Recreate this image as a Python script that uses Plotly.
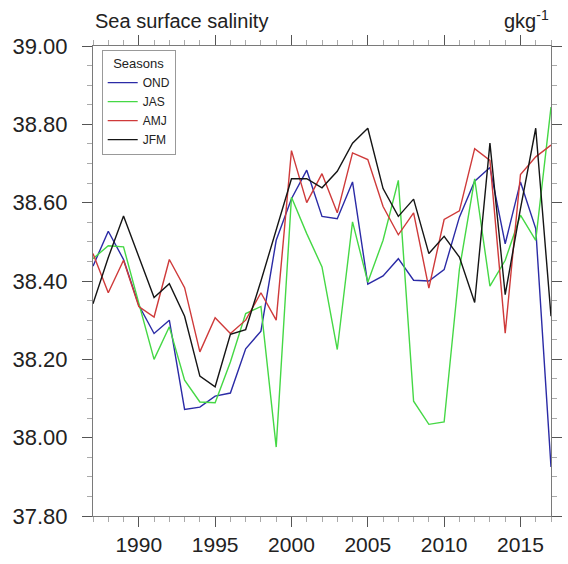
import plotly.graph_objects as go

years = list(range(1987, 2018))

ond = [38.438, 38.527, 38.455, 38.338, 38.266, 38.300, 38.072, 38.078, 38.106, 38.114,
       38.227, 38.272, 38.504, 38.610, 38.683, 38.565, 38.559, 38.653, 38.392, 38.413,
       38.457, 38.402, 38.400, 38.429, 38.563, 38.655, 38.690, 38.495, 38.653, 38.534, 37.925]

jas = [38.457, 38.490, 38.487, 38.346, 38.200, 38.283, 38.147, 38.091, 38.089, 38.193,
       38.317, 38.335, 37.976, 38.614, 38.521, 38.436, 38.225, 38.551, 38.397, 38.504,
       38.657, 38.093, 38.034, 38.040, 38.430, 38.661, 38.387, 38.453, 38.568, 38.504, 38.844]

amj = [38.470, 38.370, 38.453, 38.335, 38.308, 38.455, 38.383, 38.219, 38.306, 38.266,
       38.300, 38.370, 38.300, 38.733, 38.600, 38.674, 38.574, 38.727, 38.710, 38.590,
       38.518, 38.574, 38.382, 38.557, 38.579, 38.738, 38.708, 38.267, 38.672, 38.717, 38.747]

jfm = [38.342, 38.460, 38.566, 38.460, 38.358, 38.393, 38.310, 38.157, 38.130, 38.264,
       38.276, 38.400, 38.530, 38.661, 38.661, 38.638, 38.680, 38.752, 38.790, 38.636,
       38.565, 38.609, 38.470, 38.514, 38.461, 38.345, 38.752, 38.365, 38.585, 38.790, 38.310]

series_names = ["OND", "JAS", "AMJ", "JFM"]
series_values = [ond, jas, amj, jfm]
series_colors = ["#2b2ba6", "#45d845", "#cf3a3a", "#151515"]

title_text = "Sea surface salinity"
units_text = "gkg<sup>-1</sup>"

fig = go.Figure()
for name, vals, col in zip(series_names, series_values, series_colors):
    fig.add_trace(go.Scatter(x=years, y=vals, mode="lines", name=name,
                             line=dict(color=col, width=1.4)))

font_family = "Liberation Sans, Arial, Helvetica, sans-serif"

axis_common = dict(
    showline=True, linecolor="#7a7a7a", linewidth=1, mirror="ticks",
    ticks="outside", ticklen=10, tickwidth=1, tickcolor="#555",
    showgrid=False, zeroline=False,
)

fig.update_xaxes(range=[1987, 2017], tick0=1990, dtick=5,
                 tickfont=dict(family=font_family, size=21, color="#222"),
                 minor=dict(dtick=1, ticklen=5, tickcolor="#aaa", ticks="outside", showgrid=False),
                 **axis_common)
fig.update_yaxes(range=[37.8, 39.0], tick0=37.8, dtick=0.2, tickformat=".2f",
                 tickfont=dict(family=font_family, size=22, color="#222"),
                 ticklabelstandoff=10,
                 minor=dict(dtick=0.05, ticklen=5, tickcolor="#aaa", ticks="outside", showgrid=False),
                 **axis_common)

fig.add_annotation(text=title_text, xref="paper", yref="paper", x=0, y=1,
                   xanchor="left", yanchor="bottom", yshift=12, showarrow=False,
                   font=dict(family=font_family, size=20, color="#222"))
fig.add_annotation(text=units_text, xref="paper", yref="paper", x=1, y=1,
                   xanchor="right", yanchor="bottom", yshift=12, showarrow=False,
                   font=dict(family=font_family, size=20, color="#222"))

fig.update_layout(
    width=568, height=564,
    margin=dict(l=93, r=6, t=46, b=48),
    paper_bgcolor="white", plot_bgcolor="white",
    showlegend=True,
    legend=dict(x=0.019, y=0.991, xanchor="left", yanchor="top",
                bordercolor="#999", borderwidth=1, bgcolor="white",
                font=dict(family=font_family, size=12, color="#222"),
                title=dict(text="Seasons", side="top center",
                           font=dict(family=font_family, size=13, color="#222")),
                tracegroupgap=0, itemwidth=30),
)

fig.write_html("out.html")
